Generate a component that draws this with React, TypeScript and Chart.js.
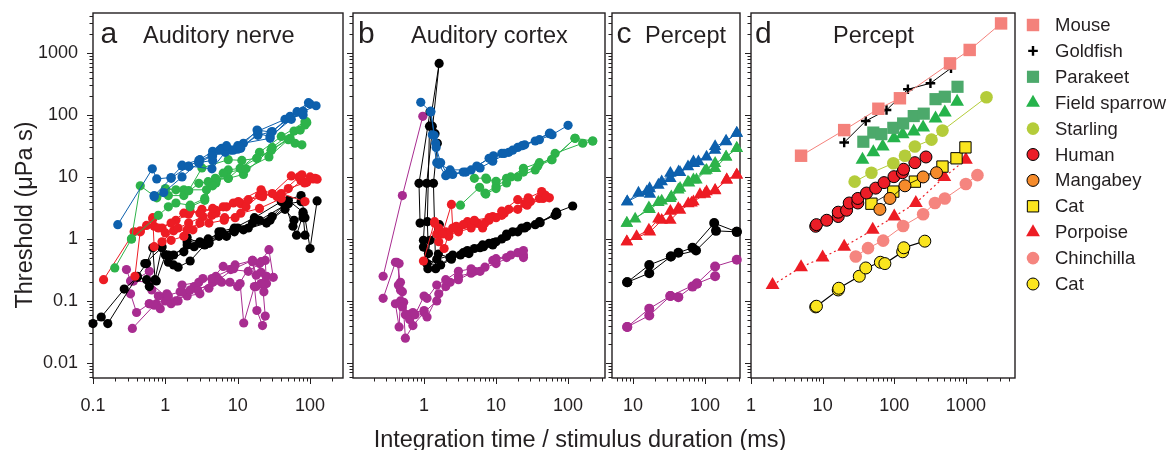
import React, { useEffect, useRef } from 'react';
import { Chart, registerables } from 'chart.js';

Chart.register(...registerables);

type Pt = [number, number];

// ---------------- Panel a: Auditory nerve ----------------
const nerveBlue: Pt[][] = [
  [[0.22, 1.7], [0.66, 13.5], [0.76, 9.3], [1.2, 9.8], [1.7, 15], [2.1, 14.8], [2.9, 18.5], [4.4, 22], [7, 32], [10.8, 30], [18.5, 57], [29, 53], [53, 95], [95, 158]],
  [[0.7, 4.8], [0.95, 5.6], [1.7, 10], [2.9, 17], [4.5, 18.5], [5.6, 27], [8.7, 27], [11, 29], [19, 50], [28, 45], [55, 85], [78, 112], [121, 141]],
  [[0.7, 5.0], [1.2, 9.5], [2.1, 15], [4.4, 13.5], [6.7, 25], [10, 28], [19, 47], [30, 54], [66, 113], [100, 150]],
  [[1.7, 15.5], [3, 19], [4.5, 26], [6, 29], [10, 32], [19, 55], [45, 85], [80, 115]],
  [[2.9, 17], [4.5, 22], [8, 27], [12, 35], [28, 42], [53, 90], [80, 100]],
];
const nerveGreen: Pt[][] = [
  [[0.2, 0.34], [0.34, 1.0], [0.45, 7.2], [0.76, 4.6], [1.0, 6.3], [1.4, 6.2], [2.1, 6.0], [3.2, 14], [7.4, 19], [11.4, 18.5], [18.4, 20], [29, 27], [73, 57], [89, 78]],
  [[0.34, 1.0], [0.8, 2.4], [1.1, 3.3], [1.4, 3.8], [2.2, 3.5], [3.5, 4.5], [4.5, 7.2], [6.3, 11.5], [13, 13.5], [27, 21], [50, 40], [62, 35], [77, 33]],
  [[0.76, 4.8], [1.1, 5.0], [1.8, 5.0], [2.9, 7.9], [3.9, 8.4], [5.1, 9], [7.4, 9.5], [10.8, 13.8], [18.4, 20], [29, 27], [53, 42], [85, 69]],
  [[1.0, 6.5], [1.8, 6.2], [3.7, 6.2], [5, 8], [7.4, 13], [11, 13.8], [20, 25], [40, 45], [85, 78]],
  [[2.2, 3.3], [3.5, 4.2], [4.9, 9.5], [7.4, 9.5], [12, 11], [30, 30], [60, 55], [90, 75]],
];
const nerveRed: Pt[][] = [
  [[0.14, 0.22], [0.37, 1.3], [0.45, 1.3], [0.55, 1.65], [0.67, 2.1], [0.8, 1.5], [1.2, 1.8], [1.8, 2.6], [2.2, 2.8], [3, 2.6], [4.5, 3.1], [6.3, 3.3], [10.2, 4.0], [21, 6.2], [30, 5.4], [55, 10.4], [77, 10.8], [100, 10], [117, 9.5]],
  [[0.38, 0.25], [0.45, 1.35], [0.7, 1.6], [1.0, 1.25], [1.5, 1.5], [2.1, 1.8], [3.3, 2.3], [5, 2.6], [8.7, 3.8], [14, 4.3], [22, 4.8], [50, 6.5], [84, 8], [110, 9.3]],
  [[0.67, 2.2], [0.7, 0.75], [0.9, 0.9], [1.3, 1.35], [2, 1.4], [3, 1.8], [4.4, 2.4], [6.6, 2.2], [9.2, 2.2], [13, 3.3], [20, 5], [40, 5.4], [85, 4.0]],
  [[0.9, 1.5], [1.4, 2.0], [2.1, 2.5], [3.2, 3.0], [5, 2.9], [7, 3.3], [11, 3.7], [22, 5.5], [35, 4.8], [70, 10], [90, 8.2]],
  [[1.2, 0.95], [1.8, 1.1], [2.4, 1.4], [4, 1.8], [6.5, 2.0], [11, 2.6], [20, 3.1], [40, 4.5], [75, 8.7], [125, 9.2]],
];
const nerveBlack: Pt[][] = [
  [[0.1, 0.043], [0.13, 0.055], [0.27, 0.155], [0.41, 0.24], [0.55, 0.22], [0.6, 0.17], [0.75, 0.21], [1.0, 0.55], [1.3, 0.38], [1.5, 0.35], [2.2, 0.44], [3.5, 0.8], [5.5, 1.3], [9, 1.5], [17, 2.2], [40, 4], [75, 5], [85, 2.2], [100, 0.7], [125, 4.1]],
  [[0.16, 0.043], [0.41, 0.25], [0.55, 0.4], [0.67, 0.72], [0.72, 0.22], [0.9, 0.75], [1.1, 0.42], [1.8, 0.62], [2, 1.05], [3, 0.85], [5.5, 1.1], [9, 1.3], [20, 2], [45, 3.5], [58, 1.6], [65, 1.15], [80, 2.5], [85, 1.15]],
  [[0.52, 0.4], [0.89, 0.72], [1.3, 0.55], [2, 0.8], [3, 0.9], [4, 0.85], [6, 1.2], [10, 1.5], [16, 1.8], [30, 2.3], [50, 4.2], [80, 2.7]],
  [[1.1, 0.55], [2.5, 0.75], [4, 0.9], [7, 1.1], [12, 1.4], [25, 1.8], [45, 3], [60, 2], [80, 2.2]],
  [[2, 0.9], [3.9, 1.0], [6, 1.3], [8.7, 1.35], [14, 1.5], [28, 2.0], [50, 3.7], [75, 4]],
];
const nerveMagenta: Pt[][] = [
  [[0.29, 0.32], [0.33, 0.21], [0.36, 0.21], [0.6, 0.3], [0.65, 0.15], [0.8, 0.12], [1.1, 0.12], [1.5, 0.1], [2.2, 0.15], [3.3, 0.23], [5.5, 0.22], [8.8, 0.33], [16, 0.45], [21, 0.43], [27, 0.67], [31, 0.24]],
  [[0.35, 0.036], [0.7, 0.085], [0.85, 0.075], [1.05, 0.13], [1.4, 0.1], [1.7, 0.18], [2.9, 0.2], [4.4, 0.23], [6.3, 0.36], [9.2, 0.38], [16, 0.45], [18, 0.17], [21, 0.19], [23, 0.14], [25, 0.25]],
  [[0.33, 0.13], [0.4, 0.065], [0.6, 0.09], [0.75, 0.09], [1.2, 0.09], [1.7, 0.14], [2.8, 0.15], [4.5, 0.2], [7.8, 0.2], [10.8, 0.19], [12.1, 0.044], [17, 0.17], [18.4, 0.07], [22, 0.04], [24, 0.057], [22, 0.19]],
  [[0.36, 0.21], [0.6, 0.2], [1.0, 0.12], [1.6, 0.14], [2.5, 0.17], [4, 0.16], [6, 0.2], [10, 0.17], [16, 0.43], [18, 0.26], [21, 0.29], [23, 0.18]],
  [[0.6, 0.09], [1.0, 0.1], [2, 0.12], [3, 0.13], [5, 0.25], [8, 0.32], [14, 0.3], [20, 0.4], [24, 0.45], [25, 0.19]],
];

// ---------------- Panel b: Auditory cortex ----------------
const cortexBlue: Pt[][] = [
  [[0.9, 160], [1.24, 112], [1.38, 47], [1.47, 30], [1.7, 17], [2.1, 11], [3.5, 12], [5.4, 15], [9.2, 22], [13, 24], [17, 27], [23, 32], [40, 40], [60, 48], [100, 68]],
  [[1.24, 115], [1.45, 35], [1.6, 16], [2.0, 10.5], [2.5, 11], [3.8, 12], [6, 14], [9, 18], [15, 25], [25, 33], [56, 51]],
  [[1.3, 48], [1.5, 17], [2.3, 13], [4.5, 13], [8, 20], [12, 24], [20, 30], [35, 38], [55, 50]],
];
const cortexGreen: Pt[][] = [
  [[3.2, 3.5], [5.9, 6.8], [7.2, 5.3], [10, 6.5], [14, 8], [24, 12], [38, 15], [60, 19], [125, 42], [220, 38]],
  [[5, 9.5], [7.2, 9.6], [7.4, 9.2], [10, 8.5], [14, 9.5], [20, 10], [35, 13], [66, 24], [160, 35], [220, 38]],
  [[7, 5.5], [10, 7], [16, 10], [24, 13.8], [40, 17], [59, 19], [125, 42]],
];
const cortexRed: Pt[][] = [
  [[0.98, 0.44], [1.4, 1.9], [1.8, 1.2], [2.4, 3.6], [2.5, 1.5], [3.5, 1.7], [5, 2], [8, 2.2], [12, 2.8], [20, 4.3], [28, 4.6], [43, 5.8], [50, 4.8]],
  [[1.4, 1.8], [1.6, 0.9], [1.9, 0.7], [2.2, 1.2], [3, 1.3], [4.5, 1.5], [7, 1.8], [10, 2.2], [15, 3], [27, 3.5], [45, 4.5], [55, 4.6]],
  [[1.6, 1.5], [2, 1.3], [2.8, 1.6], [4, 1.9], [5.5, 1.8], [8, 2], [12, 2.4], [20, 3], [30, 4], [48, 5.1]],
  [[1.5, 1.2], [2.2, 1.1], [3, 1.4], [4.5, 1.6], [6.5, 1.5], [9, 2.3], [13, 2.6], [25, 3.7], [40, 4.5]],
];
const cortexBlack: Pt[][] = [
  [[0.88, 1.8], [0.85, 7.9], [1.21, 113], [1.3, 66], [1.42, 50], [1.53, 35], [1.35, 7.9], [1.45, 0.33], [2.3, 0.5], [4, 0.6], [6.7, 0.75], [10, 0.9], [17, 1.3], [27, 1.6], [41, 1.83], [69, 2.7], [116, 3.4]],
  [[0.98, 0.95], [1.09, 7.9], [1.62, 680], [1.19, 66], [1.11, 1.9], [1.15, 0.58], [1.09, 0.4], [1.5, 0.47], [2.5, 0.55], [4, 0.65], [6.5, 0.8], [9.2, 0.87], [14, 1.2], [22.7, 1.5], [40, 1.9], [66, 2.4]],
  [[0.98, 0.74], [1.13, 0.33], [1.58, 0.57], [2.3, 0.5], [3.5, 0.6], [5, 0.7], [8, 0.85], [12, 1.0], [20, 1.3], [35, 1.7], [70, 2.5]],
  [[1.63, 1.7], [1.21, 0.95], [1.1, 0.4], [1.7, 0.38], [2.4, 0.47], [3.2, 0.55], [4.2, 0.58], [6, 0.72], [9, 0.8], [14, 1.1], [25, 1.5]],
];
const cortexMagenta: Pt[][] = [
  [[0.27, 0.25], [0.5, 5.0], [0.96, 95]],
  [[0.27, 0.11], [0.4, 0.42], [0.45, 0.4], [0.44, 0.18], [0.47, 0.15], [0.5, 0.08], [0.55, 0.06], [0.63, 0.05], [0.75, 0.06], [1.0, 0.12], [1.1, 0.11], [1.5, 0.18], [2, 0.22], [3, 0.3], [4.5, 0.33], [7, 0.35], [10, 0.48], [16, 0.55], [24, 0.65]],
  [[0.4, 0.09], [0.45, 0.038], [0.47, 0.1], [0.52, 0.095], [0.6, 0.06], [0.7, 0.065], [1.0, 0.07], [1.1, 0.055], [1.6, 0.13], [2.3, 0.2], [3, 0.25], [4.5, 0.28], [6, 0.3], [9, 0.45], [14, 0.5], [24, 0.55]],
  [[0.42, 0.42], [0.47, 0.2], [0.5, 0.14], [0.55, 0.025], [0.7, 0.04], [1.0, 0.065], [1.5, 0.1], [2, 0.17], [3, 0.22], [5, 0.3], [10, 0.4], [20, 0.6], [24, 0.5]],
];

// ---------------- Panel c: Percept ----------------
const perceptBlue: Pt[][] = [
  [[8.3, 4.0], [11.9, 5.5], [17, 6.5], [22.5, 7.4], [33, 11.5], [43, 12.2], [58, 14.7], [69, 17.7], [105, 21], [138, 31], [196, 37], [276, 51]],
  [[8.3, 4.0], [15.5, 5.8], [17.2, 5.3], [25, 8.4], [33, 9.5], [45, 11.8], [70, 16.5], [81, 17.7], [138, 27], [196, 38], [276, 51]],
];
const perceptGreen: Pt[][] = [
  [[8.2, 1.8], [10.7, 2.1], [16.6, 3.2], [22.5, 3.9], [33, 4.5], [42.6, 6.2], [58, 8.3], [69, 9], [100, 12.5], [138, 16.6], [196, 21], [276, 29]],
  [[8.2, 1.8], [17, 3.0], [25, 4.1], [34, 4.8], [45, 6.6], [60, 8], [76, 9], [105, 12.9], [138, 13.8], [196, 21], [276, 29]],
];
const perceptRed: Pt[][] = [
  [[8.2, 0.9], [11.2, 1.1], [16.6, 1.4], [22.5, 2.1], [33, 2.8], [42.6, 3.1], [58.6, 3.7], [69, 4.0], [85, 5.2], [105, 5.8], [138, 6.1], [200, 9], [276, 10.8]],
  [[8.2, 0.9], [17.2, 1.3], [25, 2.0], [33, 2.0], [45, 2.9], [65, 3.8], [100, 5.3], [138, 6.0], [200, 9], [276, 10.8]],
];
const perceptBlack: Pt[][] = [
  [[8.3, 0.2], [16.8, 0.38], [33.5, 0.52], [42.6, 0.6], [67, 0.72], [134, 1.8], [276, 1.3]],
  [[8.3, 0.2], [16.8, 0.28], [33.5, 0.52], [75, 0.65], [142, 1.35], [276, 1.3]],
];
const perceptMagenta: Pt[][] = [
  [[8.3, 0.038], [16.8, 0.075], [33, 0.12], [42.6, 0.115], [67, 0.17], [77, 0.19], [138, 0.36], [276, 0.46]],
  [[8.3, 0.038], [16.8, 0.058], [33, 0.12], [77, 0.19], [138, 0.25]],
];

// ---------------- Panel d: Percept, species ----------------
const mouse: Pt[] = [[5, 22], [20, 57], [60, 126], [120, 186], [600, 680], [1130, 1120], [3100, 3000]];
const goldfish: Pt[] = [[20, 36], [40, 80], [78, 120], [155, 260], [320, 325], [620, 570]];
const parakeet: Pt[] = [[37, 37], [51, 52], [66, 49], [97, 62], [133, 73], [187, 96], [258, 105], [377, 180], [508, 197], [764, 285]];
const fieldSparrow: Pt[] = [[36, 19], [51, 25], [69, 31], [99, 42], [131, 49], [187, 54], [253, 63], [377, 88], [508, 110], [754, 164]];
const starling: Pt[] = [[28, 8.4], [48, 11.7], [97, 16.6], [141, 22], [194, 31], [331, 40], [471, 56], [1940, 193]];
const human: Pt[] = [[8, 1.6], [8.2, 1.7], [11.4, 2.0], [16.5, 2.3], [16.5, 2.7], [21.6, 2.9], [23.5, 3.8], [31, 3.8], [31, 4.5], [41, 5.5], [55, 6.6], [72, 8.1], [99, 10.1], [130, 11.7], [135, 13.3], [194, 17], [277, 21]];
const mangabey: Pt[] = [[63, 3.0], [87, 4.5], [141, 7.2], [253, 10], [389, 11.7]];
const catSquares: Pt[] = [[48, 3.7], [97, 5.8], [194, 8.4], [471, 14.7], [740, 20], [986, 30]];
const porpoise: Pt[] = [[2, 0.18], [5, 0.35], [10, 0.5], [20, 0.75], [50, 1.4], [100, 2.3], [200, 3.8], [500, 10], [1000, 19]];
const chinchilla: Pt[] = [[29, 0.52], [43, 0.71], [70, 0.94], [133, 1.62], [253, 2.5], [370, 3.8], [508, 4.5], [1000, 7.7], [1450, 10.7]];
const catCircles: Pt[] = [[8, 0.08], [8.2, 0.082], [16.5, 0.15], [16.8, 0.16], [32.5, 0.25], [40, 0.34], [64, 0.42], [74, 0.4], [131, 0.62], [136, 0.72], [267, 0.92]];

// ---------------- Tick labels ----------------
const yTickLabels = ['0.01', '0.1', '1', '10', '100', '1000'];
const xTickLabelsA = ['0.1', '1', '10', '100'];
const xTickLabelsB = ['1', '10', '100'];
const xTickLabelsC = ['10', '100'];
const xTickLabelsD = ['1', '10', '100', '1000'];

// ---------------- Styling / layout ----------------
const FONT = '"Liberation Sans", Arial, Helvetica, sans-serif';
const INK = '#231f20';
const PAGE_W = 1170;
const PAGE_H = 450;
const PLOT_TOP = 13;
const PLOT_BOTTOM = 378;
const X_AXIS_H = 40;
const Y_MIN = 0.0057;
const Y_MAX = 4420;

const BLUE = '#0d60ad';
const GREEN = '#2db34a';
const RED = '#ed1c24';
const BLACK = '#000000';
const MAGENTA = '#a82c90';

function isDecade(v: number) {
  const l = Math.log10(v);
  return Math.abs(l - Math.round(l)) < 1e-6;
}
function logTicks(min: number, max: number): number[] {
  const out: number[] = [];
  for (let e = Math.floor(Math.log10(min)); e <= Math.ceil(Math.log10(max)); e++) {
    for (let m = 1; m <= 9; m++) {
      const v = parseFloat((m * Math.pow(10, e)).toPrecision(6));
      if (v >= min * 0.999999 && v <= max * 1.000001) out.push(v);
    }
  }
  return out;
}
function fmt(v: number) {
  return v >= 1 ? String(Math.round(v)) : String(parseFloat(v.toPrecision(3)));
}

function lines(groups: Pt[][], color: string, opts: any = {}) {
  return groups.map((g) => ({
    data: g.map(([x, y]) => ({ x, y })),
    showLine: true,
    borderColor: color,
    backgroundColor: color,
    borderWidth: 1,
    pointRadius: 4.6,
    pointBorderWidth: 0,
    pointBackgroundColor: color,
    pointBorderColor: color,
    pointStyle: 'circle',
    tension: 0,
    clip: false,
    ...opts,
  }));
}

function series(label: string, pts: Pt[], o: any) {
  return {
    label,
    data: pts.map(([x, y]) => ({ x, y })),
    showLine: !!o.line,
    borderColor: o.line || 'rgba(0,0,0,0)',
    borderWidth: o.lineWidth ?? 1,
    borderDash: o.dash ?? [],
    backgroundColor: o.fill,
    pointStyle: o.style,
    pointRadius: o.r,
    pointBackgroundColor: o.fill,
    pointBorderColor: o.edge ?? o.fill,
    pointBorderWidth: o.edgeW ?? 0,
    tension: 0,
    clip: false,
  };
}

type TextItem = { text: string; x: number; y: number; size: number; align?: CanvasTextAlign; rotate?: boolean };

type Panel = {
  key: string;
  left: number;
  right: number;
  yAxisW: number;
  xMin: number;
  xMax: number;
  xLabels: string[];
  yLabels: string[] | null;
  datasets: any[];
  texts: TextItem[];
  legend?: boolean;
};

const PANELS: Panel[] = [
  {
    key: 'a', left: 93, right: 343, yAxisW: 85, xMin: 0.1, xMax: 285, xLabels: xTickLabelsA, yLabels: yTickLabels,
    datasets: [
      ...lines(nerveBlue, BLUE), ...lines(nerveGreen, GREEN), ...lines(nerveRed, RED),
      ...lines(nerveBlack, BLACK), ...lines(nerveMagenta, MAGENTA),
    ],
    texts: [
      { text: 'a', x: 100.5, y: 43, size: 30 },
      { text: 'Auditory nerve', x: 143, y: 43, size: 23.5 },
      { text: 'Threshold (\u03bcPa s)', x: 32, y: 215, size: 23.5, align: 'center', rotate: true },
      { text: 'Integration time / stimulus duration (ms)', x: 580, y: 447, size: 23.5, align: 'center' },
    ],
  },
  {
    key: 'b', left: 353, right: 605, yAxisW: 20, xMin: 0.103, xMax: 326, xLabels: xTickLabelsB, yLabels: null,
    datasets: [
      ...lines(cortexBlue, BLUE), ...lines(cortexGreen, GREEN), ...lines(cortexRed, RED),
      ...lines(cortexBlack, BLACK), ...lines(cortexMagenta, MAGENTA),
    ],
    texts: [
      { text: 'b', x: 358, y: 43, size: 30 },
      { text: 'Auditory cortex', x: 411, y: 43, size: 23.5 },
    ],
  },
  {
    key: 'c', left: 612, right: 740, yAxisW: 20, xMin: 5.1, xMax: 306, xLabels: xTickLabelsC, yLabels: null,
    datasets: [
      ...lines(perceptBlue, BLUE, { pointStyle: 'triangle', pointRadius: 7.2 }),
      ...lines(perceptGreen, GREEN, { pointStyle: 'triangle', pointRadius: 7.2 }),
      ...lines(perceptRed, RED, { pointStyle: 'triangle', pointRadius: 7.2 }),
      ...lines(perceptBlack, BLACK, { pointRadius: 5 }),
      ...lines(perceptMagenta, MAGENTA, { pointRadius: 5 }),
    ],
    texts: [
      { text: 'c', x: 616.5, y: 43, size: 30 },
      { text: 'Percept', x: 645, y: 43, size: 23.5 },
    ],
  },
  {
    key: 'd', left: 751, right: 1015, yAxisW: 20, xMin: 1, xMax: 4850, xLabels: xTickLabelsD, yLabels: null,
    legend: true,
    datasets: [
      series('Mouse', mouse, { style: 'rect', r: 8.8, fill: '#f4817b', line: '#f4817b' }),
      series('Goldfish', goldfish, { style: 'cross', r: 4.8, fill: '#000', edge: '#000', edgeW: 2.4, line: '#000' }),
      series('Parakeet', parakeet, { style: 'rect', r: 8.6, fill: '#4ca96b' }),
      series('Field sparrow', fieldSparrow, { style: 'triangle', r: 8, fill: '#25b34b' }),
      series('Starling', starling, { style: 'circle', r: 6.3, fill: '#b4cc3a', line: '#b4cc3a' }),
      series('Human', human, { style: 'circle', r: 6, fill: '#ec1d27', edge: '#000', edgeW: 1 }),
      series('Mangabey', mangabey, { style: 'circle', r: 6, fill: '#f58b2b', edge: '#000', edgeW: 1, line: '#000', lineWidth: 0.8 }),
      series('Cat', catSquares, { style: 'rect', r: 8, fill: '#fbe51e', edge: '#000', edgeW: 1, line: '#000', lineWidth: 0.8 }),
      series('Porpoise', porpoise, { style: 'triangle', r: 8, fill: '#ed1c24', line: '#ed1c24', lineWidth: 1.2, dash: [2, 3] }),
      series('Chinchilla', chinchilla, { style: 'circle', r: 6.3, fill: '#f5857f', line: '#f5857f' }),
      series('Cat', catCircles, { style: 'circle', r: 6, fill: '#fbe51e', edge: '#000', edgeW: 1, line: '#000', lineWidth: 1.2 }),
    ],
    texts: [
      { text: 'd', x: 755, y: 43, size: 30 },
      { text: 'Percept', x: 833, y: 43, size: 23.5 },
    ],
  },
];

function drawMarker(ctx: CanvasRenderingContext2D, style: string, x: number, y: number, r: number, fill: string, edge: string, edgeW: number) {
  ctx.beginPath();
  if (style === 'rect') {
    const s = Math.SQRT1_2 * r;
    ctx.rect(x - s, y - s, 2 * s, 2 * s);
  } else if (style === 'triangle') {
    for (let i = 0; i < 3; i++) {
      const a = (i * 2 * Math.PI) / 3;
      const px = x + Math.sin(a) * r;
      const py = y - Math.cos(a) * r;
      if (i === 0) ctx.moveTo(px, py); else ctx.lineTo(px, py);
    }
    ctx.closePath();
  } else if (style === 'cross') {
    ctx.moveTo(x, y - r); ctx.lineTo(x, y + r);
    ctx.moveTo(x - r, y); ctx.lineTo(x + r, y);
    ctx.strokeStyle = edge; ctx.lineWidth = edgeW;
    ctx.stroke();
    return;
  } else {
    ctx.arc(x, y, r, 0, Math.PI * 2);
  }
  ctx.fillStyle = fill;
  ctx.fill();
  if (edgeW > 0) {
    ctx.strokeStyle = edge; ctx.lineWidth = edgeW;
    ctx.stroke();
  }
}

function zeroPadding(s: any) {
  s.paddingTop = 0;
  s.paddingBottom = 0;
  s.paddingLeft = 0;
  s.paddingRight = 0;
}

function buildConfig(p: Panel): any {
  const framePlugin = {
    id: 'frame' + p.key,
    beforeDatasetsDraw(chart: any) {
      const { ctx, chartArea: a, scales } = chart;
      ctx.save();
      ctx.strokeStyle = INK;
      ctx.lineWidth = 1;
      const xs = scales.x;
      xs.ticks.forEach((t: any) => {
        const px = Math.round(xs.getPixelForValue(t.value)) + 0.5;
        const len = isDecade(t.value) ? 6 : 3.5;
        ctx.beginPath(); ctx.moveTo(px, a.bottom); ctx.lineTo(px, a.bottom + len); ctx.stroke();
      });
      const ys = scales.y;
      ys.ticks.forEach((t: any) => {
        const py = Math.round(ys.getPixelForValue(t.value)) + 0.5;
        const len = isDecade(t.value) ? 6 : 3.5;
        ctx.beginPath(); ctx.moveTo(a.left, py); ctx.lineTo(a.left - len, py); ctx.stroke();
      });
      ctx.lineWidth = 1.4;
      ctx.strokeRect(a.left, a.top, a.right - a.left, a.bottom - a.top);
      ctx.restore();
    },
  };
  const textPlugin = {
    id: 'texts' + p.key,
    afterDraw(chart: any) {
      const ctx: CanvasRenderingContext2D = chart.ctx;
      ctx.save();
      ctx.fillStyle = INK;
      p.texts.forEach((t) => {
        ctx.font = `${t.size}px ${FONT}`;
        ctx.textAlign = t.align || 'left';
        ctx.textBaseline = 'alphabetic';
        if (t.rotate) {
          ctx.save();
          ctx.translate(t.x, t.y);
          ctx.rotate(-Math.PI / 2);
          ctx.fillText(t.text, 0, 0);
          ctx.restore();
        } else {
          ctx.fillText(t.text, t.x, t.y);
        }
      });
      if (p.legend) {
        const mx = 1033;
        const tx = 1055;
        chart.data.datasets.forEach((ds: any, i: number) => {
          const y = 25 + i * 25.9;
          drawMarker(ctx, ds.pointStyle, mx, y, ds.pointRadius, ds.pointBackgroundColor, ds.pointBorderColor, ds.pointBorderWidth);
          ctx.fillStyle = INK;
          ctx.font = `18.5px ${FONT}`;
          ctx.textAlign = 'left';
          ctx.textBaseline = 'middle';
          ctx.fillText(ds.label, tx, y + 1);
        });
      }
      ctx.restore();
    },
  };

  const xTicks = logTicks(p.xMin, p.xMax);
  const yTicks = logTicks(Y_MIN, Y_MAX);

  return {
    type: 'scatter',
    data: { datasets: p.datasets },
    options: {
      responsive: false,
      animation: false,
      devicePixelRatio: 1,
      events: [],
      layout: {
        padding: {
          left: p.left - p.yAxisW,
          right: PAGE_W - p.right,
          top: PLOT_TOP,
          bottom: PAGE_H - PLOT_BOTTOM - X_AXIS_H,
        },
      },
      plugins: { legend: { display: false }, tooltip: { enabled: false } },
      scales: {
        x: {
          type: 'logarithmic',
          position: 'bottom',
          min: p.xMin,
          max: p.xMax,
          grid: { display: false, drawTicks: false },
          border: { display: false },
          ticks: {
            autoSkip: false,
            maxRotation: 0,
            minRotation: 0,
            padding: 17,
            color: INK,
            font: { family: FONT, size: 18 },
            callback: (v: any) => {
              const n = Number(v);
              const s = fmt(n);
              return isDecade(n) && p.xLabels.includes(s) ? s : '';
            },
          },
          afterBuildTicks: (s: any) => { s.ticks = xTicks.map((v) => ({ value: v })); },
          afterFit: (s: any) => { s.height = X_AXIS_H; zeroPadding(s); },
        },
        y: {
          type: 'logarithmic',
          position: 'left',
          min: Y_MIN,
          max: Y_MAX,
          grid: { display: false, drawTicks: false },
          border: { display: false },
          ticks: {
            display: !!p.yLabels,
            autoSkip: false,
            padding: 15,
            color: INK,
            font: { family: FONT, size: 18 },
            callback: (v: any) => {
              const n = Number(v);
              const s = fmt(n);
              return p.yLabels && isDecade(n) && p.yLabels.includes(s) ? s : '';
            },
          },
          afterBuildTicks: (s: any) => { s.ticks = yTicks.map((v) => ({ value: v })); },
          afterFit: (s: any) => { s.width = p.yAxisW; zeroPadding(s); },
        },
      },
    },
    plugins: [framePlugin, textPlugin],
  };
}

export default function App() {
  const refs = useRef<(HTMLCanvasElement | null)[]>([]);
  useEffect(() => {
    const charts = PANELS.map((p, i) => new Chart(refs.current[i] as HTMLCanvasElement, buildConfig(p)));
    return () => charts.forEach((c) => c.destroy());
  }, []);
  return (
    <div style={{ position: 'absolute', left: 0, top: 0, width: PAGE_W, height: PAGE_H, background: '#ffffff', overflow: 'hidden' }}>
      {PANELS.map((p, i) => (
        <canvas
          key={p.key}
          ref={(el) => { refs.current[i] = el; }}
          width={PAGE_W}
          height={PAGE_H}
          style={{ position: 'absolute', left: 0, top: 0, width: PAGE_W, height: PAGE_H }}
        />
      ))}
    </div>
  );
}
